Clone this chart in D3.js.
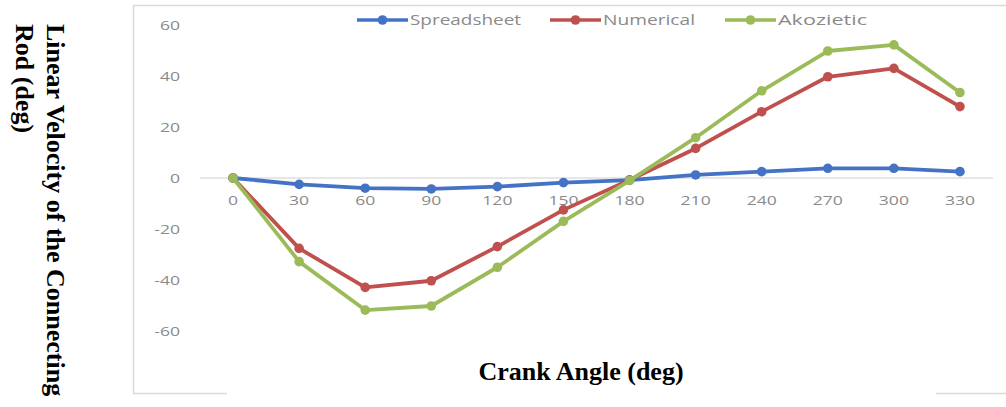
<!DOCTYPE html>
<html>
<head>
<meta charset="utf-8">
<script src="https://cdn.jsdelivr.net/npm/d3@7"></script>
<style>
  body { margin: 0; background: #fff; }
</style>
</head>
<body>
<div id="chart"></div>
<script>
const angles = [0, 30, 60, 90, 120, 150, 180, 210, 240, 270, 300, 330];
const spreadsheet = [0, -2.5, -4, -4.3, -3.4, -1.8, -0.8, 1.2, 2.5, 3.8, 3.8, 2.5];
const numerical = [0, -27.6, -42.9, -40.3, -26.9, -12.5, -0.8, 11.6, 26, 39.7, 43, 28];
const akozietic = [0, -32.8, -51.8, -50.2, -35, -17, -1, 15.8, 34.2, 49.8, 52.2, 33.5];
const yTicks = [60, 40, 20, 0, -20, -40, -60];

const seriesNames = ["Spreadsheet", "Numerical", "Akozietic"];
const seriesColors = ["#4472C4", "#C0504D", "#9BBB59"];
const series = [spreadsheet, numerical, akozietic];

const width = 1006;
const height = 407;

const svg = d3.select("#chart").append("svg")
  .attr("width", width)
  .attr("height", height);

// chart frame (partly covered by the x title box, as in the original)
svg.append("rect")
  .attr("x", 133.5).attr("y", 5.5)
  .attr("width", 900).attr("height", 388)
  .attr("fill", "none")
  .attr("stroke", "#d9d9d9")
  .attr("stroke-width", 1.5);

const x = d3.scaleBand()
  .domain(angles)
  .range([200, 993]);

const y = d3.scaleLinear()
  .domain([-60, 60])
  .range([331, 25]);

const cx = d => x(d) + x.bandwidth() / 2;

// y tick labels
const yAxis = svg.append("g")
  .attr("transform", "translate(180,0)")
  .call(d3.axisLeft(y).tickValues(yTicks).tickSize(0).tickPadding(0)
    .tickFormat(d => String(d)));
yAxis.select(".domain").remove();
yAxis.selectAll("text")
  .attr("font-family", "'Open Sans', sans-serif")
  .attr("font-size", 13)
  .attr("fill", "#8a8a8a")
  .attr("transform", "scale(1.35,1)");

// zero line
svg.append("line")
  .attr("x1", 200).attr("x2", 993)
  .attr("y1", y(0)).attr("y2", y(0))
  .attr("stroke", "#d0d0d0")
  .attr("stroke-width", 1.2);

// x tick labels
svg.append("g").selectAll("text")
  .data(angles)
  .enter().append("text")
  .attr("transform", d => `translate(${cx(d)},${y(0) + 27}) scale(1.35,1)`)
  .attr("text-anchor", "middle")
  .attr("font-family", "'Open Sans', sans-serif")
  .attr("font-size", 13)
  .attr("fill", "#8a8a8a")
  .text(d => d);

// lines and markers
const line = d3.line()
  .x((d, i) => cx(angles[i]))
  .y(d => y(d));

series.forEach((vals, s) => {
  svg.append("path")
    .datum(vals)
    .attr("fill", "none")
    .attr("stroke", seriesColors[s])
    .attr("stroke-width", 3.8)
    .attr("stroke-linejoin", "round")
    .attr("d", line);

  svg.append("g").selectAll("circle")
    .data(vals)
    .enter().append("circle")
    .attr("cx", (d, i) => cx(angles[i]))
    .attr("cy", d => y(d))
    .attr("r", 4.8)
    .attr("fill", seriesColors[s]);
});

// legend
const legendX = [357, 550, 725];
const legendTextW = [111, 92, 89];
const legend = svg.append("g");
seriesNames.forEach((name, s) => {
  const lx = legendX[s];
  legend.append("line")
    .attr("x1", lx).attr("x2", lx + 51)
    .attr("y1", 20).attr("y2", 20)
    .attr("stroke", seriesColors[s])
    .attr("stroke-width", 3.5);
  legend.append("circle")
    .attr("cx", lx + 25.5).attr("cy", 20)
    .attr("r", 4.8)
    .attr("fill", seriesColors[s]);
  legend.append("text")
    .attr("x", lx + 53).attr("y", 25)
    .attr("font-family", "'Open Sans', sans-serif")
    .attr("font-size", 14)
    .attr("fill", "#8a8a8a")
    .attr("textLength", legendTextW[s])
    .attr("lengthAdjust", "spacingAndGlyphs")
    .text(name);
});

// white box holding the x title
svg.append("rect")
  .attr("x", 227).attr("y", 352)
  .attr("width", 709).attr("height", 55)
  .attr("fill", "#fff");

svg.append("text")
  .attr("x", 581).attr("y", 380)
  .attr("text-anchor", "middle")
  .attr("font-family", "'Liberation Serif', 'Times New Roman', serif")
  .attr("font-weight", "bold")
  .attr("font-size", 26)
  .attr("fill", "#000")
  .text("Crank Angle (deg)");

// y title, rotated to read top to bottom
const yTitle = ["Linear Velocity of the Connecting", "Rod (deg)"];
svg.append("g").selectAll("text")
  .data(yTitle)
  .enter().append("text")
  .attr("transform", (d, i) => `translate(${47 - i * 31},24) rotate(90)`)
  .attr("font-family", "'Liberation Serif', 'Times New Roman', serif")
  .attr("font-weight", "bold")
  .attr("font-size", 26)
  .attr("fill", "#000")
  .text(d => d);
</script>
</body>
</html>
